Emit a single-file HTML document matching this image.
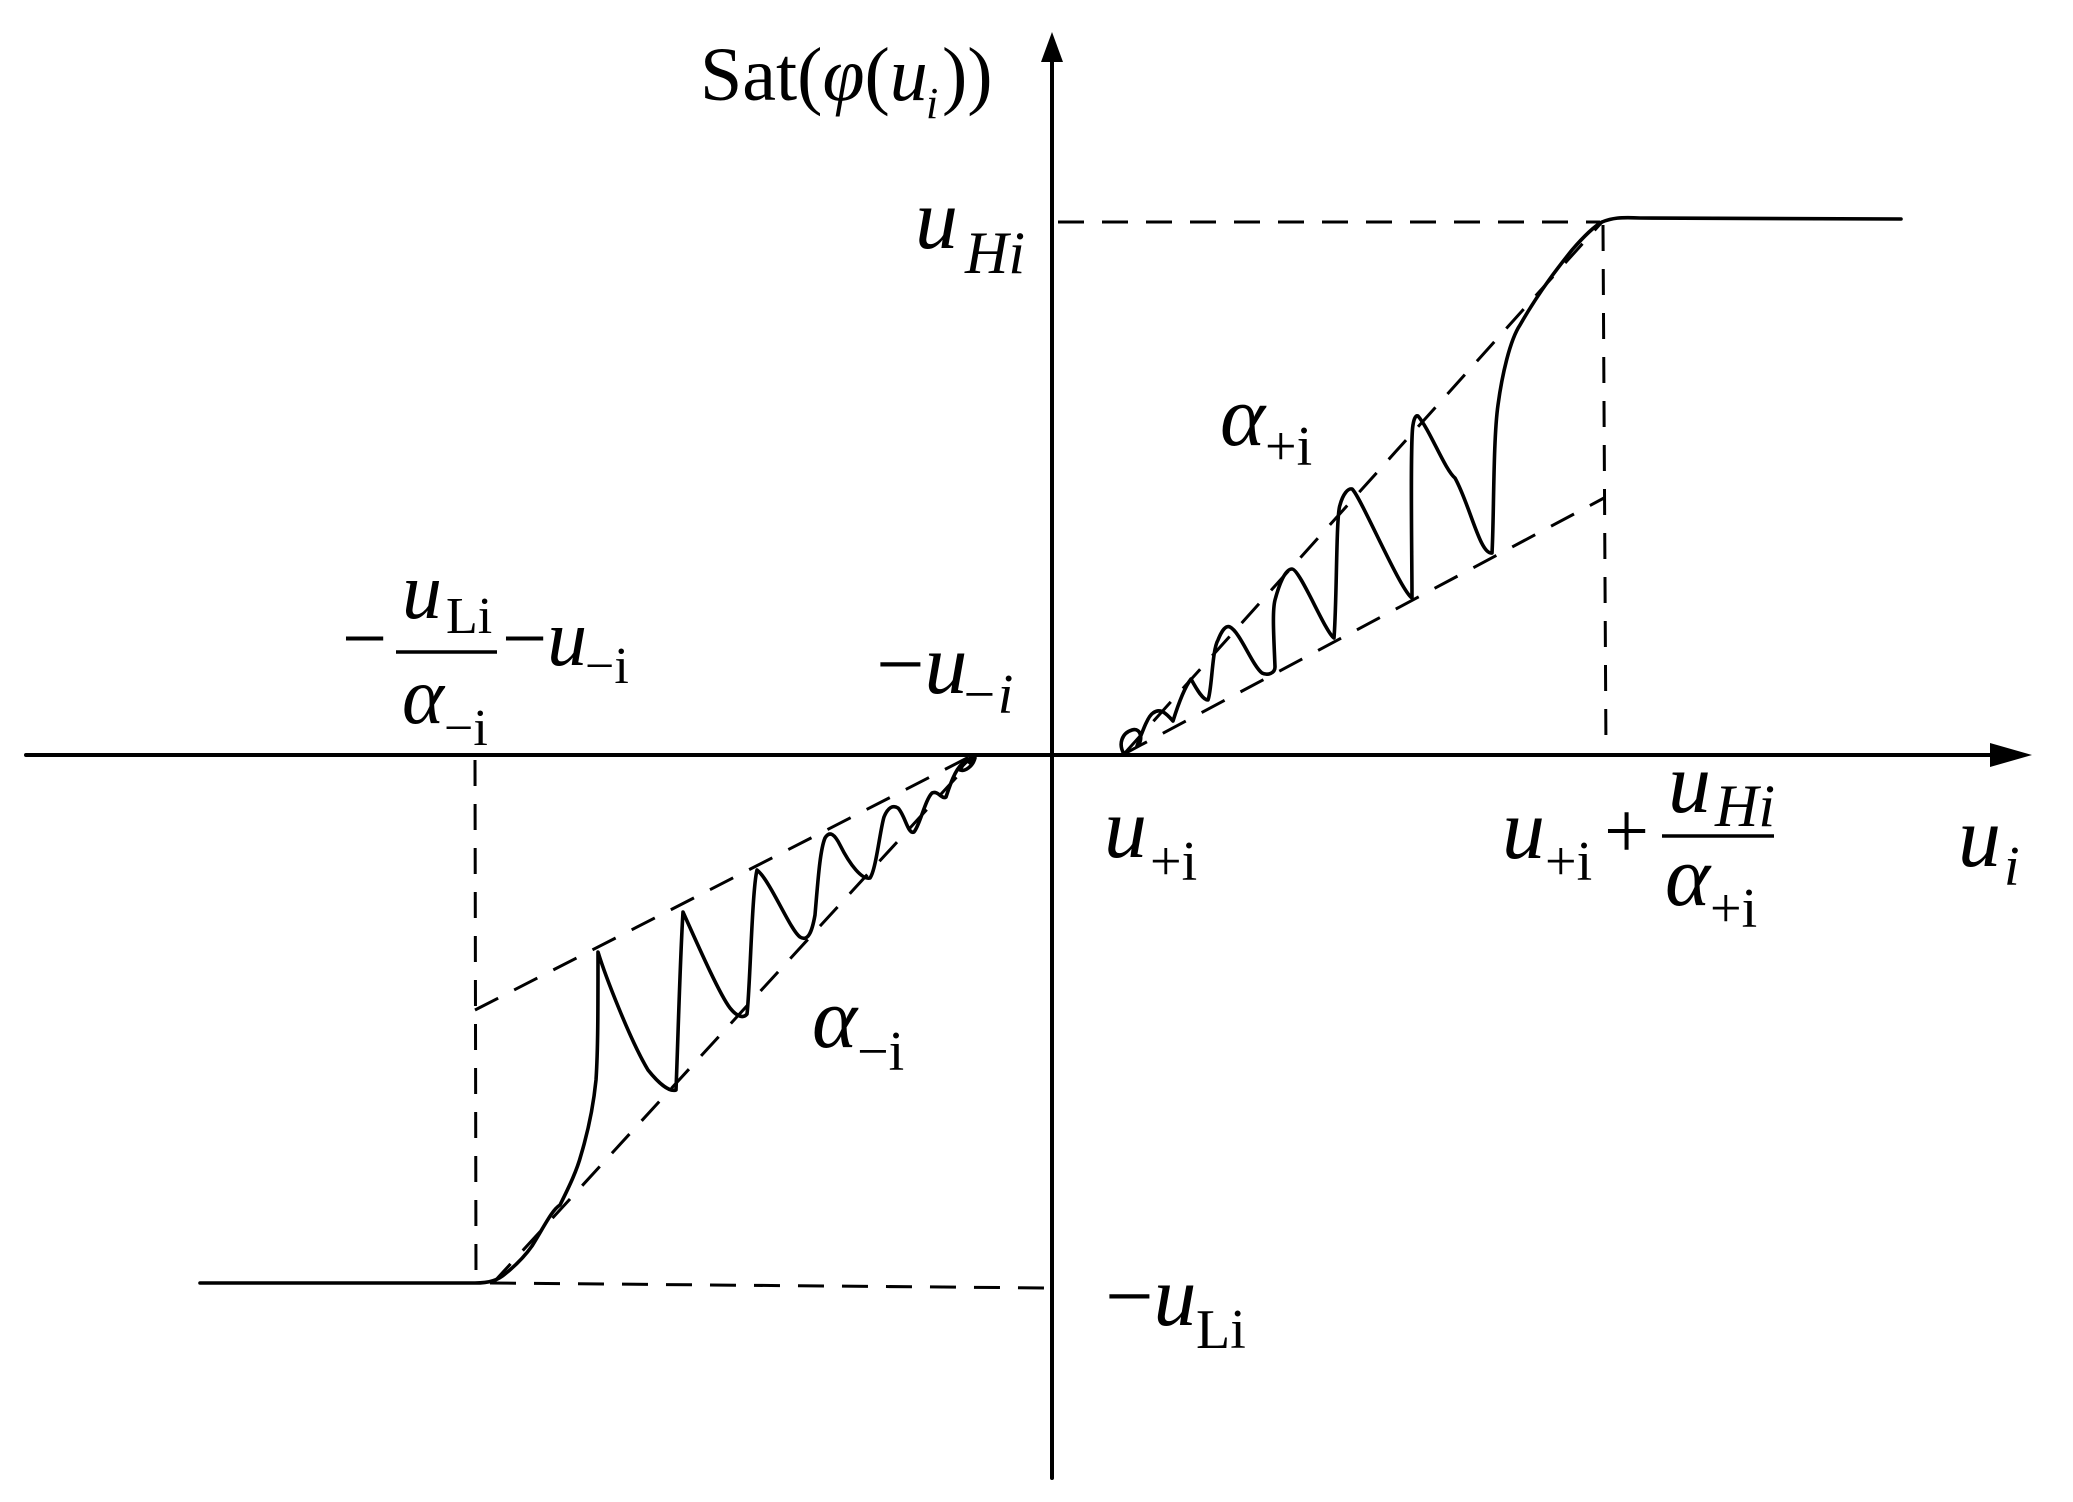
<!DOCTYPE html>
<html><head><meta charset="utf-8"><style>
html,body{margin:0;padding:0;background:#fff;}
svg{display:block;}
text{font-family:"Liberation Serif",serif;fill:#000;}
.it{font-style:italic;}
</style></head><body>
<svg width="2073" height="1502" viewBox="0 0 2073 1502" xmlns="http://www.w3.org/2000/svg">
<g stroke="#000" fill="none" stroke-linecap="round" stroke-linejoin="round">
<line x1="26" y1="755" x2="2000" y2="755" stroke-width="4"/>
<line x1="1052" y1="1478" x2="1052" y2="55" stroke-width="4"/>
<g stroke-width="3" stroke-dasharray="26 18" stroke-linecap="butt">
<line x1="1058" y1="222" x2="1600" y2="222"/>
<line x1="1603" y1="225" x2="1606" y2="755"/>
<line x1="475" y1="760" x2="476" y2="1283"/>
<line x1="490" y1="1283" x2="1050" y2="1288"/>
<line x1="1124" y1="754" x2="1602" y2="222"/>
<line x1="1124" y1="754" x2="1604" y2="498"/>
<line x1="475" y1="1010" x2="975" y2="754"/>
<line x1="493" y1="1283" x2="975" y2="757"/>
</g>
<path stroke-width="3.6" d="M1124,754 C1118,744 1122,733 1132,730 C1142,727 1143,742 1137,746 C1143,730 1148,716 1153,713 C1160,708 1165,712 1173,721 C1178,705 1184,688 1191,679 C1197,690 1203,700 1208,700 C1212,690 1212,650 1218,640 C1222,630 1226,625 1230,627 C1240,632 1252,665 1262,673 C1268,676 1275,673 1275,667 C1274,640 1272,612 1275,600 C1279,585 1285,569 1292,569 C1300,569 1325,632 1334,638 C1337,600 1336,515 1340,505 C1343,494 1348,488 1352,489 C1360,495 1400,590 1412,598 C1412,560 1410,440 1413,425 C1414,418 1416,415 1418,416 C1430,430 1445,470 1455,478 C1470,505 1480,555 1492,553 C1494,520 1493,440 1498,405 C1502,375 1510,340 1520,325 C1540,290 1560,265 1572,250 C1585,235 1595,226 1602,222 C1612,218 1620,217 1640,218 L1901,219"/>
<path stroke-width="3.6" d="M200,1283 L475,1283 C490,1283 498,1280 505,1274 C515,1266 525,1256 532,1246 C545,1225 552,1210 560,1205 C570,1185 577,1170 581,1155 C590,1125 594,1100 596,1080 C598,1050 598,1010 598,952 C605,975 630,1040 648,1070 C660,1085 670,1092 676,1090 C678,1040 680,960 683,912 C700,950 720,995 730,1008 C738,1018 744,1018 747,1014 C750,990 752,890 757,870 C770,880 790,930 800,937 C808,942 812,932 815,915 C818,880 820,850 825,838 C830,830 835,835 840,845 C850,865 862,880 870,878 C876,870 880,830 884,817 C888,807 893,805 898,808 C905,815 908,835 914,832 C920,825 925,800 932,793 C938,790 942,800 946,797 C950,785 955,770 962,764 C968,758 975,756 975,758 C973,766 965,772 960,770 C962,765 968,760 975,756"/>
</g>
<polygon points="1052,32 1041,62 1063,62" fill="#000"/>
<polygon points="2032,755 1990,743 1990,767" fill="#000"/>

<text x="700" y="100" font-size="76">Sat(<tspan class="it">φ</tspan>(<tspan class="it">u</tspan></text>
<text x="926" y="118" font-size="44" class="it">i</text>
<text x="942" y="100" font-size="76">))</text>

<text x="915" y="248" font-size="86" class="it">u</text>
<text x="965" y="273" font-size="60" class="it">Hi</text>

<text x="876" y="693" font-size="86">−<tspan class="it">u</tspan></text>
<text x="960" y="713" font-size="56" class="it">−i</text>

<text x="1104" y="857" font-size="86" class="it">u</text>
<text x="1150" y="880" font-size="56">+i</text>

<text x="1502" y="858" font-size="86" class="it">u</text>
<text x="1545" y="880" font-size="56">+i</text>
<text x="1604" y="858" font-size="80">+</text>
<line x1="1662" y1="836" x2="1774" y2="836" stroke="#000" stroke-width="3.5"/>
<text x="1668" y="812" font-size="86" class="it">u</text>
<text x="1715" y="826" font-size="60" class="it">Hi</text>
<text x="1665" y="905" font-size="86" class="it">α</text>
<text x="1710" y="927" font-size="56">+i</text>

<text x="1958" y="866" font-size="86" class="it">u</text>
<text x="2004" y="885" font-size="56" class="it">i</text>

<text x="1220" y="445" font-size="86" class="it">α</text>
<text x="1265" y="465" font-size="56">+i</text>

<text x="812" y="1047" font-size="86" class="it">α</text>
<text x="857" y="1070" font-size="56">−i</text>

<text x="1105" y="1325" font-size="86">−<tspan class="it">u</tspan></text>
<text x="1196" y="1348" font-size="56">Li</text>

<text x="342" y="665" font-size="80">−</text>
<line x1="396" y1="652" x2="497" y2="652" stroke="#000" stroke-width="3.5"/>
<text x="402" y="618" font-size="80" class="it">u</text>
<text x="446" y="633" font-size="52">Li</text>
<text x="402" y="723" font-size="80" class="it">α</text>
<text x="444" y="745" font-size="52">−i</text>
<text x="502" y="665" font-size="80">−<tspan class="it">u</tspan></text>
<text x="585" y="683" font-size="52">−i</text>
</svg>
</body></html>
